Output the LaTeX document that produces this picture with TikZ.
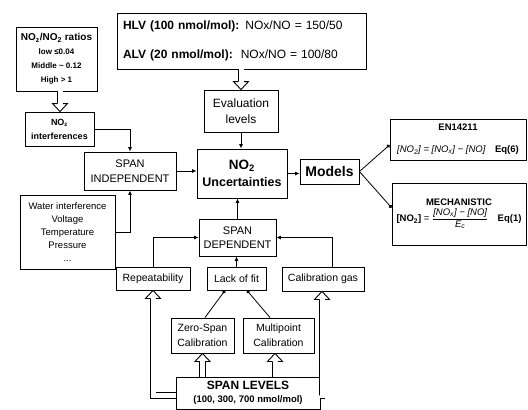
\documentclass[tikz,border=0pt]{standalone}
\usepackage{fontspec}
\setmainfont{Liberation Sans}
\usetikzlibrary{arrows.meta,calc}
\newcommand{\fs}[2]{\fontsize{#1}{#2}\selectfont}
\begin{document}
\begin{tikzpicture}[x=1pt,y=-1pt,
  box/.style={draw, line width=0.9pt, inner sep=0pt, align=center},
  conn/.style={line width=0.8pt, -{Latex[length=4.5pt,width=4pt]}},
  dotc/.style={line width=0.8pt, -{Circle[length=3.5pt]}},
  shaft/.style={line width=0.9pt, double=white, double distance=5pt, shorten >=8pt},
  headup/.pic={\draw[line width=0.9pt, fill=white, line join=miter] (-2.95,8) -- (-7.5,8) -- (0,0) -- (7.5,8) -- (2.95,8);},
  headdown/.pic={\draw[line width=0.9pt, fill=white, line join=miter] (-2.95,-8) -- (-7.5,-8) -- (0,0) -- (7.5,-8) -- (2.95,-8);}
]
\fill[white] (0,0) rectangle (528,410);
\useasboundingbox (0,0) rectangle (528,410);

% nodes
\node[box, minimum width=81, minimum height=64, font=\fs{8}{14}\bfseries] (ratios) at (56.5,59)
  {{\fs{10}{14}NO\textsubscript{z}/NO\textsubscript{2} ratios}\\ low ≤0.04\\ Middle \textasciitilde{} 0.12\\ High > 1};
\node[box, minimum width=69, minimum height=34, font=\fs{9}{14}\bfseries] (nozi) at (59.5,129)
  {NO\textsubscript{z}\\interferences};
\node[box, minimum width=92, minimum height=38, font=\fs{11}{15}] (spanind) at (130,171)
  {SPAN\\INDEPENDENT};
\node[box, minimum width=95, minimum height=74, font=\fs{9.5}{13}] (water) at (67.5,232)
  {Water interference\\Voltage\\Temperature\\Pressure\\...};
\node[box, minimum width=249, minimum height=56, text width=237, align=left, inner xsep=6pt, font=\fs{12}{29}] (hlv) at (241.5,41)
  {\textbf{HLV (100 nmol/mol):} NOx/NO = 150/50\\ \textbf{ALV (20 nmol/mol):}\ \ NOx/NO = 100/80};
\node[box, minimum width=74, minimum height=42, font=\fs{12}{16}] (eval) at (241,111)
  {Evaluation\\levels};
\node[box, minimum width=90, minimum height=49, font=\fs{12.5}{17}\bfseries] (unc) at (242,173.5)
  {{\fs{13.5}{17}NO\textsubscript{2}}\\Uncertainties};
\node[box, minimum width=59, minimum height=25, font=\fs{14}{16}\bfseries] (models) at (329.5,171.5)
  {Models};
\node[box, minimum width=136, minimum height=41, font=\fs{9.5}{22}] (en) at (458,139.5)
  {\textbf{EN14211}\\ \textit{[NO\textsubscript{2}] = [NO\textsubscript{x}] − [NO]}\quad\textbf{Eq(6)}};
\node[box, minimum width=134, minimum height=62, font=\fs{9.5}{12}] (mech) at (459,214)
  {\textbf{MECHANISTIC}\\[2pt] \textbf{[NO\textsubscript{2}]} = $\displaystyle\frac{\mbox{\itshape [NO\textsubscript{x}] − [NO]}}{\mbox{\itshape E\textsubscript{c}}}$\quad\textbf{Eq(1)}};
\node[box, minimum width=77, minimum height=37, font=\fs{11}{14}] (spandep) at (237.5,237.5)
  {SPAN\\DEPENDENT};
\node[box, minimum width=74, minimum height=23, font=\fs{10.5}{12}] (rep) at (153,278.5)
  {Repeatability};
\node[box, minimum width=59, minimum height=23, font=\fs{10.5}{12}] (lof) at (236.5,278.5)
  {Lack of fit};
\node[box, minimum width=82, minimum height=24, font=\fs{10.5}{12}] (cal) at (323,279)
  {Calibration gas};
\node[box, minimum width=63, minimum height=35, font=\fs{10.5}{15}] (zs) at (202.5,335.5)
  {Zero-Span\\Calibration};
\node[box, minimum width=71, minimum height=35, font=\fs{10.5}{15}] (mp) at (278.5,335.5)
  {Multipoint\\Calibration};
\node[box, minimum width=144, minimum height=32.5, font=\fs{9.5}{13}\bfseries] (spanlev) at (248,393.25)
  {{\fs{12}{13}SPAN LEVELS}\\(100, 300, 700 nmol/mol)};

% thin connectors
\draw[conn] (nozi.east) -| (spanind.north);
\draw[conn] (water.east) -| (spanind.south);
\draw[conn] (spanind.east) -- (spanind.east -| unc.west);
\draw[conn] (eval.south) -- (eval.south |- unc.north);
\draw[conn] (unc.east) -- (unc.east -| models.west);
\draw[dotc] (models.east) -- ($(en.south west)!0.37!(en.north west)$);
\draw[dotc] (models.east) -- ($(mech.north west)!0.4!(mech.south west)$);
\draw[conn] (spandep.north) -- (spandep.north |- unc.south);
\draw[conn] (rep.north) |- (spandep.west);
\draw[conn] ($(cal.north)+(9,0)$) |- (spandep.east);
\draw[conn] (lof.north) -- (lof.north |- spandep.south);
\draw[dotc] ($(zs.north)+(2.5,0)$) -- ($(lof.south)+(-11.5,0)$);
\draw[dotc] ($(mp.north)+(-8.5,0)$) -- ($(lof.south)+(10.5,0)$);

% hollow arrows
\coordinate (r1) at ($(ratios.south)+(3.5,0)$);
\draw[shaft] (r1) -- (r1 |- nozi.north);
\pic at (r1 |- nozi.north) {headdown};
\draw[shaft] (eval.north |- hlv.south) -- (eval.north);
\pic at (eval.north) {headdown};
\draw[shaft] (zs.south |- spanlev.north) -- (zs.south);
\pic at (zs.south) {headup};
\coordinate (m1) at ($(mp.south)+(-3.5,0)$);
\draw[shaft] (m1 |- spanlev.north) -- (m1);
\pic at (m1) {headup};
\draw[shaft] ($(spanlev.west)+(0,2)$) -| (rep.south);
\pic at (rep.south) {headup};
\coordinate (c1) at ($(cal.south)+(-1,0)$);
\draw[shaft] ($(spanlev.east)+(0,2)$) -| (c1);
\pic at (c1) {headup};
\end{tikzpicture}
\end{document}
